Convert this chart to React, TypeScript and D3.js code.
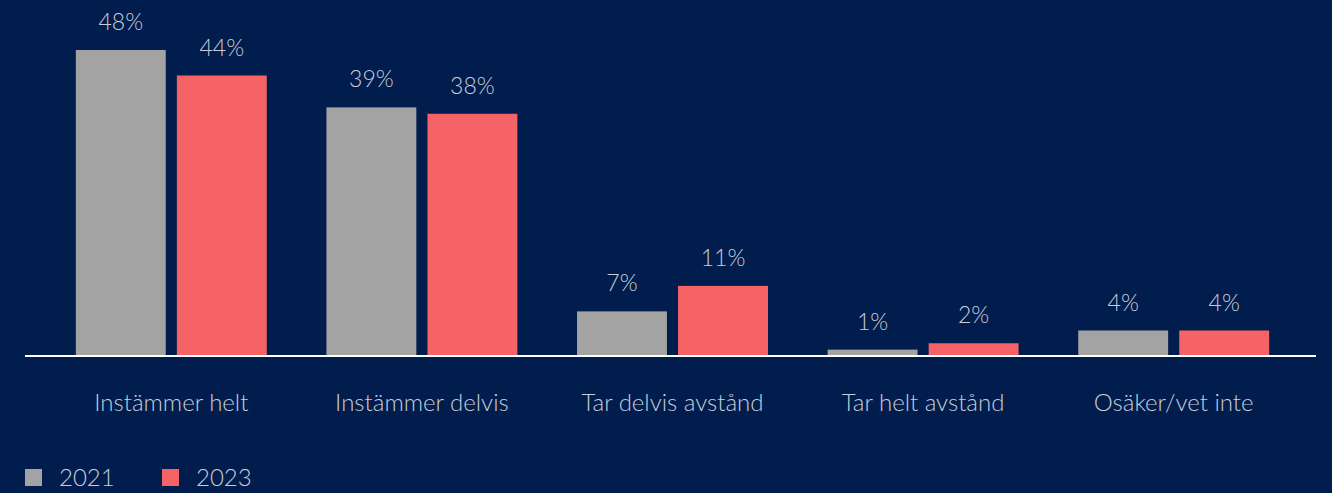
import React from "react";
import * as d3 from "d3";

const categories = ["Instämmer helt", "Instämmer delvis", "Tar delvis avstånd", "Tar helt avstånd", "Osäker/vet inte"];
const seriesNames = ["2021", "2023"];
const values2021 = [48, 39, 7, 1, 4];
const values2023 = [44, 38, 11, 2, 4];
const seriesColors = ["#a3a3a3", "#f56367"];

const W = 1332;
const H = 493;
const BG = "#001d4e";
const TEXT = "#c8cdd8";
const FONT = "Lato, 'Open Sans', sans-serif";

export default function App() {
  const baseY = 356;
  const x0 = d3.scaleBand<string>().domain(categories).range([46, 1299]).paddingInner(0.238).paddingOuter(0.119);
  const x1 = d3.scaleBand<string>().domain(seriesNames).range([0, x0.bandwidth()]).paddingInner(0.11).paddingOuter(0);
  const y = d3.scaleLinear().domain([0, 48]).range([baseY, 50]);
  const series = [values2021, values2023];

  return (
    <svg width={W} height={H} style={{ position: "absolute", left: 0, top: 0, display: "block" }} fontFamily={FONT}>
      <rect x={0} y={0} width={W} height={H} fill={BG} />
      {categories.map((c, i) => (
        <g key={c} transform={`translate(${x0(c)},0)`}>
          {seriesNames.map((s, j) => {
            const v = series[j][i];
            const bx = x1(s)!;
            return (
              <g key={s}>
                <rect x={bx} y={y(v)} width={x1.bandwidth()} height={baseY - y(v)} fill={seriesColors[j]} />
                <text x={bx + x1.bandwidth() / 2} y={y(v) - 20} textAnchor="middle" fill={TEXT} fontSize={23} fontWeight={300}>
                  {v}%
                </text>
              </g>
            );
          })}
          <text x={x0.bandwidth() / 2} y={411} textAnchor="middle" fill={TEXT} fontSize={24} fontWeight={300}>
            {c}
          </text>
        </g>
      ))}
      <line x1={25} x2={1316} y1={baseY} y2={baseY} stroke="#ffffff" strokeWidth={2} />
      {seriesNames.map((s, j) => (
        <g key={s} transform={`translate(${25 + j * 137},0)`}>
          <rect x={0} y={469} width={17} height={17} fill={seriesColors[j]} />
          <text x={34} y={486} fill={TEXT} fontSize={24} fontWeight={300}>
            {s}
          </text>
        </g>
      ))}
    </svg>
  );
}
